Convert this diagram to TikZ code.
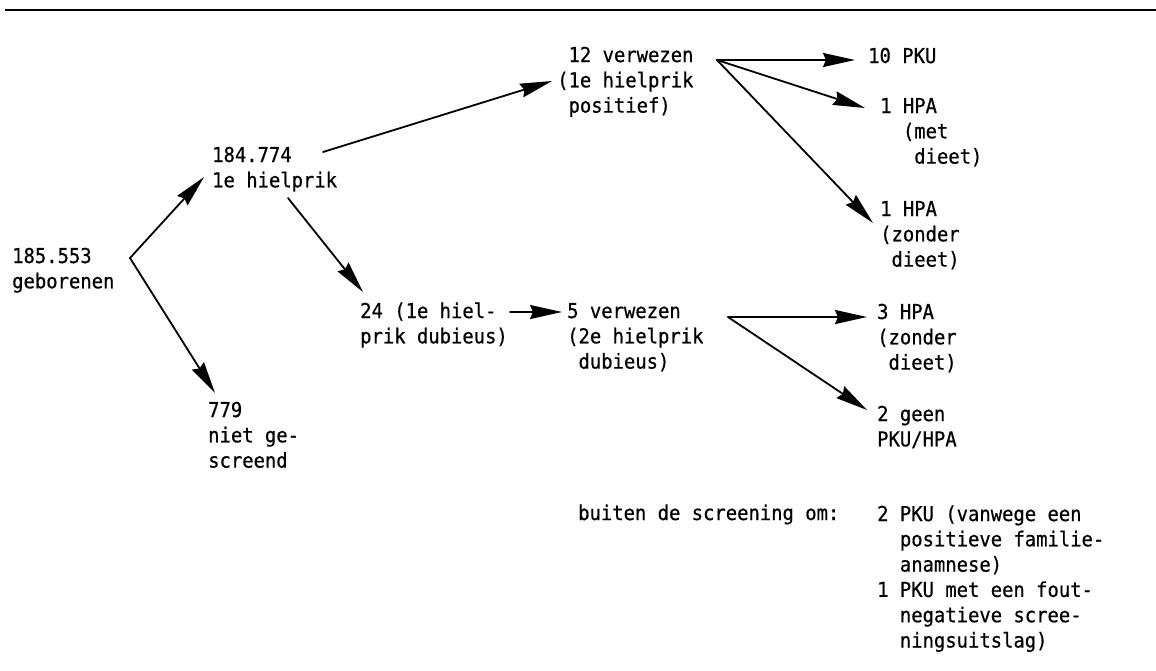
\documentclass[tikz,border=0pt]{standalone}
\usepackage{fontspec}
\newfontfamily\plotfont[FakeStretch=0.92,FakeBold=0.6]{DejaVu Sans Mono}
\usetikzlibrary{arrows.meta}
\newcommand\ph[1]{\hphantom{#1}}
\newcommand\lns[1]{\begin{tabular}[t]{@{}l@{}}#1\end{tabular}}
\tikzset{
  txt/.style={anchor=base west, inner sep=0pt, font=\plotfont\fontsize{20.5}{25.3}\selectfont},
  arr/.style={line width=1.8pt, line cap=round, -{Stealth[length=32pt, width=14pt, inset=3pt]}},
  rule/.style={line width=2.4pt}
}
\begin{document}
\begin{tikzpicture}[x=1pt,y=-1pt]
\useasboundingbox (0,0) rectangle (1156,670);
\coordinate (r0) at (5,10);
\coordinate (r1) at (1156,10);
\draw[rule] (r0) -- (r1);

\node[txt] (n0) at (12,263) {\lns{185.553\\geborenen}};
\node[txt] (n1) at (212,162) {\lns{184.774\\1e hielprik}};
\node[txt] (n2) at (557,62) {\lns{\ph{(}12 verwezen\\(1e hielprik\\\ph{(}positief)}};
\node[txt] (n3) at (868,63) {\lns{10 PKU}};
\node[txt] (n4) at (880,113) {\lns{1 HPA\\\ph{00}(met\\\ph{000}dieet)}};
\node[txt] (n5) at (880,216) {\lns{1 HPA\\(zonder\\\ph{(}dieet)}};
\node[txt] (n6) at (360,318) {\lns{24 (1e hiel-\\prik dubieus)}};
\node[txt] (n7) at (567,318) {\lns{5 verwezen\\(2e hielprik\\\ph{(}dubieus)}};
\node[txt] (n8) at (877,319) {\lns{3 HPA\\(zonder\\\ph{(}dieet)}};
\node[txt] (n9) at (877,421) {\lns{2 geen\\PKU/HPA}};
\node[txt] (n10) at (208,417) {\lns{779\\niet ge-\\screend}};
\node[txt] (n11) at (578,520) {\lns{buiten de screening om:}};
\node[txt] (n12) at (877,521) {\lns{2 PKU (vanwege een\\\ph{2 }positieve familie-\\\ph{2 }anamnese)\\1 PKU met een fout-\\\ph{1 }negatieve scree-\\\ph{1 }ningsuitslag)}};

% forks and arrow ends
\coordinate (f0) at (130,258);
\coordinate (t01) at (204,177);
\coordinate (t010) at (215,393);
\coordinate (s12) at (323,152);
\coordinate (t12) at (552,81);
\coordinate (s16) at (288,198);
\coordinate (t16) at (363,292);
\coordinate (f2) at (717,60);
\coordinate (t23) at (855,60);
\coordinate (t24) at (865,108);
\coordinate (t25) at (873,223);
\coordinate (s67) at (510,312);
\coordinate (t67) at (562,312);
\coordinate (f7) at (728,317);
\coordinate (t78) at (867,317);
\coordinate (t79) at (867,410);

\draw[arr] (f0) -- (t01);
\draw[arr] (f0) -- (t010);
\draw[arr] (s12) -- (t12);
\draw[arr] (s16) -- (t16);
\draw[arr] (f2) -- (t23);
\draw[arr] (f2) -- (t24);
\draw[arr] (f2) -- (t25);
\draw[arr] (s67) -- (t67);
\draw[arr] (f7) -- (t78);
\draw[arr] (f7) -- (t79);
\end{tikzpicture}
\end{document}
